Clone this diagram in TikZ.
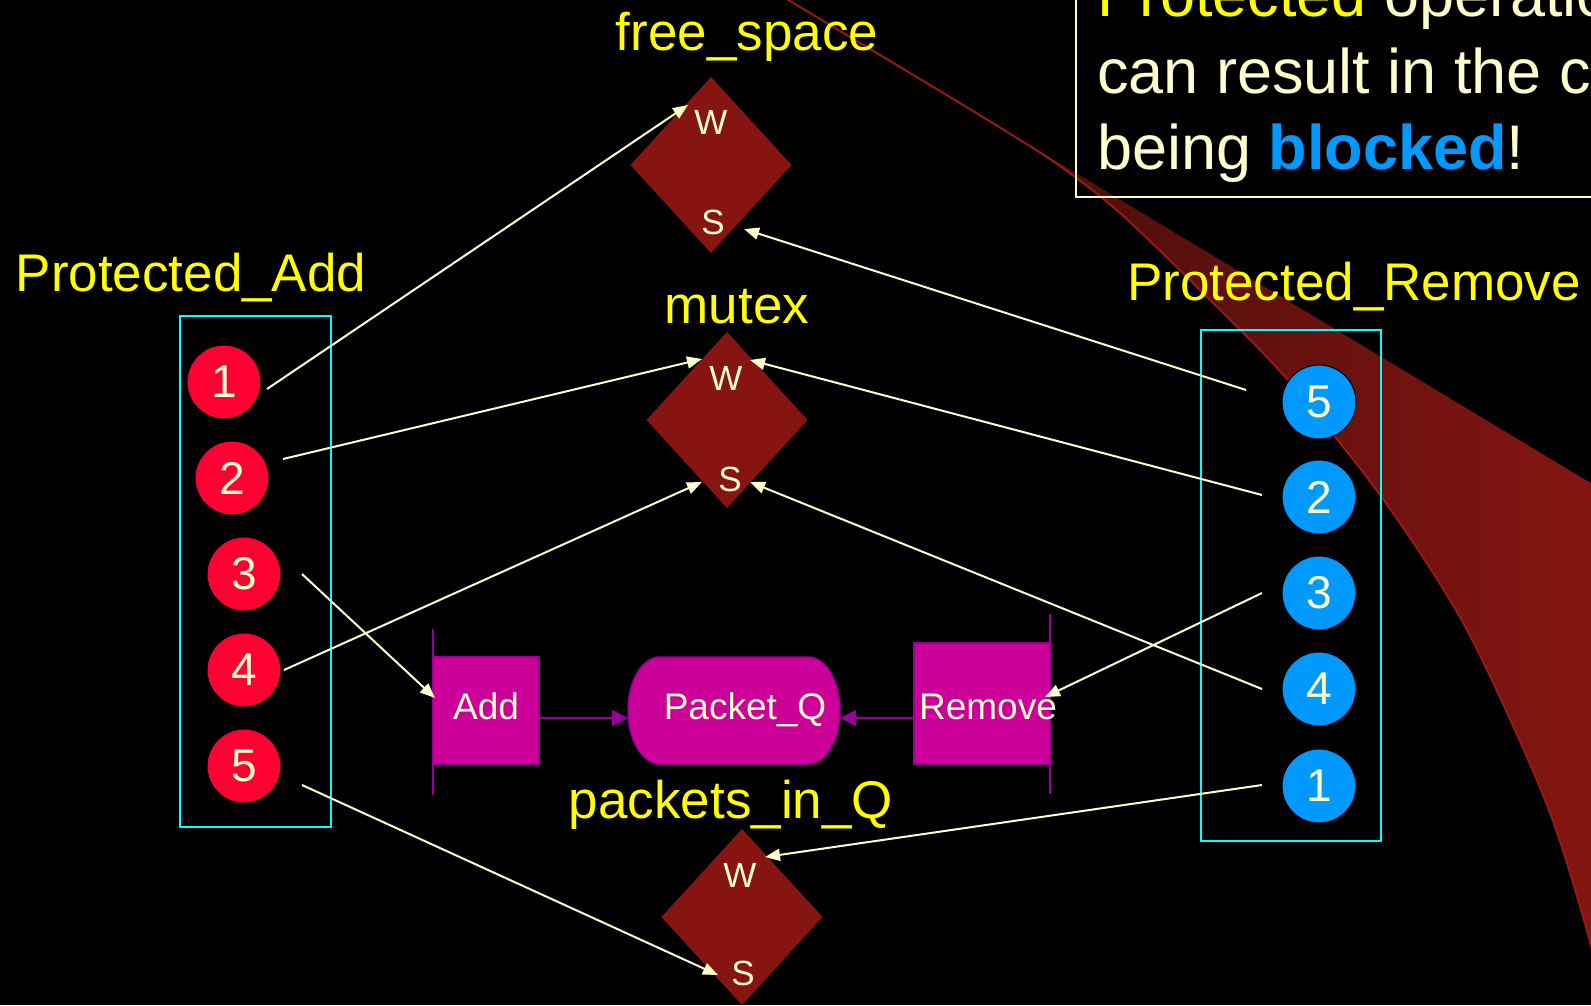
\documentclass[tikz,border=0pt]{standalone}
\usepackage{fontspec}
\setmainfont{Liberation Sans}
\usetikzlibrary{shapes.geometric,arrows.meta}

\definecolor{cream}{RGB}{255,255,204}
\definecolor{labelyellow}{RGB}{255,255,0}
\definecolor{semred}{RGB}{134,21,17}
\definecolor{addred}{RGB}{255,0,51}
\definecolor{remblue}{RGB}{0,153,255}
\definecolor{grpcyan}{RGB}{0,255,255}
\definecolor{qmagenta}{RGB}{204,0,153}
\definecolor{qpurple}{RGB}{153,0,153}
\definecolor{swooshL}{RGB}{50,9,7}
\definecolor{swooshR}{RGB}{135,22,18}
\definecolor{swooshEdge}{RGB}{150,26,20}

\tikzset{
  lbl/.style={text=labelyellow, font=\fontsize{53pt}{60pt}\selectfont, inner sep=0pt, anchor=base},
  toptext/.style={text=cream, font=\fontsize{63pt}{76pt}\selectfont, inner sep=0pt, anchor=base west},
  semdiamond/.style={diamond, fill=semred, minimum width=161pt, minimum height=176pt, inner sep=0pt, outer sep=0pt},
  ws/.style={text=cream, font=\fontsize{35pt}{40pt}\selectfont, inner sep=0pt},
  ball/.style={circle, draw=black, line width=1pt, minimum size=74pt, inner sep=0pt, text=cream, font=\fontsize{46pt}{50pt}\selectfont},
  addball/.style={ball, fill=addred},
  remball/.style={ball, fill=remblue},
  grp/.style={draw=grpcyan, line width=2.5pt},
  flow/.style={draw=cream, line width=2pt, -{Triangle[length=15pt,width=12pt]}},
  qbox/.style={rectangle, fill=qmagenta, draw=qpurple, line width=1.5pt, inner sep=0pt, outer sep=0pt},
  qtext/.style={text=cream, font=\fontsize{37pt}{42pt}\selectfont, inner sep=0pt, anchor=base},
  qarrow/.style={draw=qpurple, line width=2pt, -{Triangle[length=16pt,width=16pt]}},
  qbar/.style={draw=qpurple, line width=2pt},
}

\begin{document}
\begin{tikzpicture}[x=1pt, y=-1pt]
  % canvas
  \useasboundingbox (0,0) rectangle (1591,1005);
  \fill[black] (0,0) rectangle (1591,1005);
  \clip (0,0) rectangle (1591,1005);

  % red swoosh in the background
  \fill[left color=swooshL, right color=swooshR]
    plot[smooth] coordinates {(780,-5) (900,67) (1000,127.5) (1060,166) (1120,213) (1200,290)
      (1287,379) (1383,499) (1467,630) (1547,805) (1591,945) (1605,1010)}
    -- (1620,1010) -- (1620,500.7) -- cycle;
  \draw[swooshEdge, line width=2pt]
    plot[smooth] coordinates {(780,-5) (900,67) (1000,127.5) (1060,166) (1120,213) (1200,290)
      (1287,379) (1383,499) (1467,630) (1547,805) (1591,945) (1605,1010)};

  % remark box, top right
  \draw[cream, line width=2pt] (1076,-10) rectangle (1600,197);
  \node[toptext] (t1) at (1097,16) {\textcolor{labelyellow}{Protected} operations};
  \node[toptext] (t2) at (1097,93) {can result in the calling};
  \node[toptext] (t3) at (1097,169) {being \textbf{\textcolor{remblue}{blocked}}!};

  % semaphore labels
  \node[lbl] (fslbl) at (747,50) {free\_space};
  \node[lbl] (mxlbl) at (737,323) {mutex};
  \node[lbl] (pqlbl) at (731,818) {packets\_in\_Q};
  \node[lbl] (addlbl) at (191,291) {Protected\_Add};
  \node[lbl] (remlbl) at (1354,300) {Protected\_Remove};

  % semaphores
  \node[semdiamond] (fs) at (711,165) {};
  \node[ws] (fsW) at (711,122) {W};
  \node[ws] (fsS) at (713,222) {S};
  \node[semdiamond] (mx) at (727,420) {};
  \node[ws] (mxW) at (726,378) {W};
  \node[ws] (mxS) at (730,479) {S};
  \node[semdiamond] (pqs) at (742,917) {};
  \node[ws] (pqW) at (740,875) {W};
  \node[ws] (pqS) at (743,973) {S};

  % operation groups
  \draw[grp] (180,316) rectangle (331,827);
  \draw[grp] (1201,330) rectangle (1381,841);

  \node[addball] (a1) at (224,382) {1};
  \node[addball] (a2) at (232,478) {2};
  \node[addball] (a3) at (244,574) {3};
  \node[addball] (a4) at (244,670) {4};
  \node[addball] (a5) at (244,766) {5};

  \node[remball] (r5) at (1319,402) {5};
  \node[remball] (r2) at (1319,497) {2};
  \node[remball] (r3) at (1319,593) {3};
  \node[remball] (r4) at (1319,689) {4};
  \node[remball] (r1) at (1319,786) {1};

  % queue and its access procedures
  \node[qbox, minimum width=106pt, minimum height=107pt] (addbox) at (486,710.5) {};
  \node[qbox, minimum width=136pt, minimum height=121pt] (rembox) at (982,703.5) {};
  \node[rectangle, minimum width=212pt, minimum height=107pt, inner sep=0pt, outer sep=0pt] (pq) at (734,710.5) {};
  \fill[qmagenta, draw=qpurple, line width=1.5pt]
    (660,657) -- (808,657) arc[start angle=-90, end angle=90, x radius=32, y radius=53.5]
    -- (660,764) arc[start angle=90, end angle=270, x radius=32, y radius=53.5] -- cycle;
  \draw[qbar] (addbox.west |- 0,629) -- (addbox.west |- 0,795);
  \draw[qbar] (rembox.east |- 0,614) -- (rembox.east |- 0,794);
  \node[qtext] (addtxt) at (486,719) {Add};
  \node[qtext] (pqtxt) at (745,719) {Packet\_Q};
  \node[qtext] (remtxt) at (988,719) {Remove};

  \coordinate (qy) at (0,718);
  \draw[qarrow] (addbox.east |- qy) -- (pq.west |- qy);
  \draw[qarrow] (rembox.west |- qy) -- (pq.east |- qy);

  % connector ends
  \coordinate (a1s) at (267,389);
  \coordinate (a2s) at (283,459);
  \coordinate (a3s) at (302,574);
  \coordinate (a4s) at (284,670);
  \coordinate (a5s) at (302,785);
  \coordinate (r5s) at (1246,390);
  \coordinate (r2s) at (1262,495);
  \coordinate (r3s) at (1262,593);
  \coordinate (r4s) at (1262,689);
  \coordinate (r1s) at (1262,785);

  \coordinate (fsWin) at (688,105);
  \coordinate (fsSin) at (744,229);
  \coordinate (mxWl) at (702,359);
  \coordinate (mxWr) at (750,360);
  \coordinate (mxSl) at (702,482);
  \coordinate (mxSr) at (750,482);
  \coordinate (pqWin) at (765,857);
  \coordinate (pqSin) at (718,975);
  \coordinate (addin) at (435,698);
  \coordinate (remin) at (1045,697);

  % Protected_Add steps
  \draw[flow] (a1s) -- (fsWin);
  \draw[flow] (a2s) -- (mxWl);
  \draw[flow] (a3s) -- (addin);
  \draw[flow] (a4s) -- (mxSl);
  \draw[flow] (a5s) -- (pqSin);

  % Protected_Remove steps
  \draw[flow] (r5s) -- (fsSin);
  \draw[flow] (r2s) -- (mxWr);
  \draw[flow] (r3s) -- (remin);
  \draw[flow] (r4s) -- (mxSr);
  \draw[flow] (r1s) -- (pqWin);
\end{tikzpicture}
\end{document}
